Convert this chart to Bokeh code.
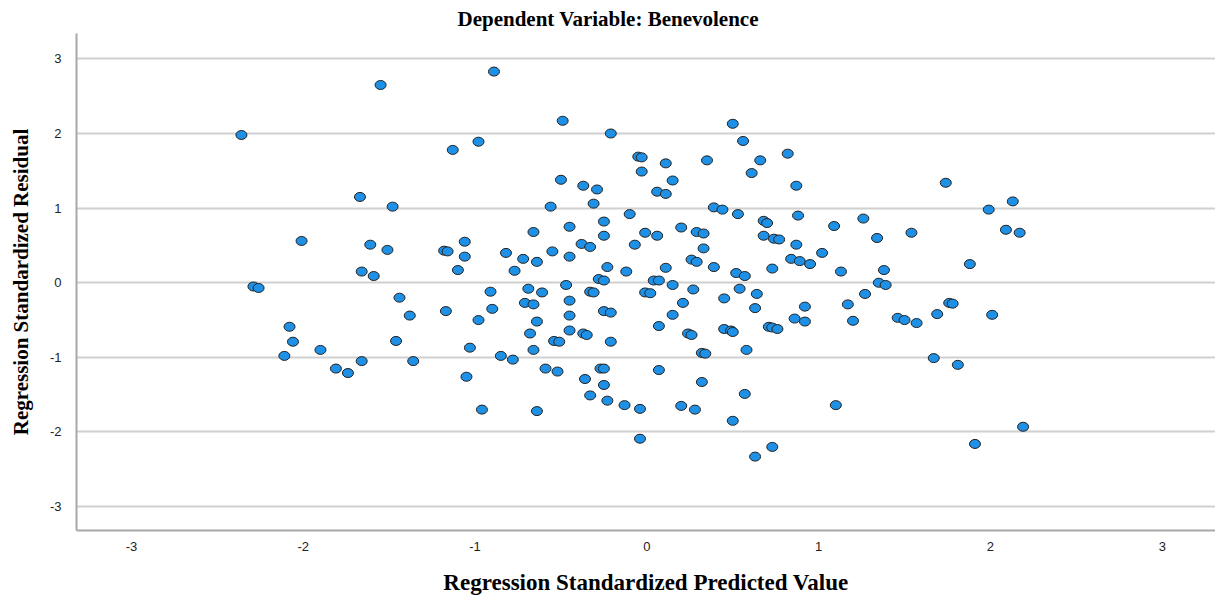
from bokeh.plotting import figure
from bokeh.models import ColumnDataSource, FixedTicker, Range1d
from bokeh.embed import file_html
from bokeh.resources import INLINE

# Regression standardized predicted values (x) and standardized residuals (y)
pred = [
    -2.36, -1.55, -0.89, -2.01, -2.29, -2.26, -2.08, -2.06, -2.11, -1.90,
    -1.81, -1.74, -1.66, -1.67, -1.48, -1.66, -1.59, -1.61, -1.51, -1.44,
    -1.38, -1.46, -1.36, -1.13, -0.98, -1.18, -1.16, -1.06, -1.06, -1.10,
    -1.17, -1.05, -1.03,
    -0.49, -0.21, 0.50, 0.56, 0.82, 0.66, 0.61, 0.87, -0.05, -0.03,
    -0.03, 0.11, 0.15, 0.35, -0.50, -0.37, -0.29, -0.31, 0.06, 0.11,
    -0.56, -0.10, 0.39, 0.44, 0.53, 0.88, 1.09, 0.68, 0.70, 0.68,
    0.74, 0.77, 0.87, 1.02, 0.84, 0.89, 0.95, 0.73, 0.52, 0.57,
    1.13, -0.25, -0.45, -0.25, -0.01, 0.06, 0.20, 0.29, 0.33, 0.33,
    0.26, 0.29, 0.39, 0.11, -0.07, -0.38, -0.33, -0.45, -0.55, -0.66,
    -0.82, -0.72, -0.64, -0.77, -0.23, -0.12, -0.28, -0.25, 0.04, 0.07,
    -0.47, 0.15,
    -0.91, -0.90, -0.98, -0.85, -0.78, -0.96, -0.64, -0.69, -0.61, -0.71,
    -0.66, -0.64, -0.68, -0.66, -0.45, -0.45, -0.45, -0.54, -0.51, -0.59,
    -0.52, -0.33, -0.31, -0.25, -0.21, -0.37, -0.35, -0.21, -0.27, -0.25,
    -0.36, -0.25, -0.33, -0.23, -0.13, -0.04, -0.04, -0.01, 0.02, 0.27,
    0.21, 0.15, 0.07, 0.07, 0.24, 0.26, 0.32, 0.34, 0.32, 0.20,
    0.28, 0.45, 0.54, 0.64, 0.63, 0.45, 0.49, 0.50, 0.58, 0.57,
    0.50, 0.63, 0.73, 0.92, 0.86, 0.92, 0.71, 0.73, 0.76, 1.17,
    1.20, 1.10,
    1.74, 2.13, 1.99, 1.26, 1.34, 1.54, 2.09, 2.17, 1.88, 1.38,
    1.35, 1.39, 1.27, 1.46, 1.50, 1.57, 1.69, 1.76, 1.78, 2.01,
    1.67, 1.81, 2.19, 1.91,
]
resid = [
    1.98, 2.65, 2.83, 0.56, -0.05, -0.07, -0.59, -0.79, -0.98, -0.90,
    -1.15, -1.21, -1.05, 1.15, 1.02, 0.15, 0.09, 0.51, 0.44, -0.20,
    -0.44, -0.78, -1.05, 1.78, 1.89, 0.43, 0.42, 0.55, 0.35, 0.17,
    -0.38, -1.26, -0.87,
    2.17, 2.00, 2.13, 1.90, 1.73, 1.64, 1.47, 1.30, 1.69, 1.68,
    1.49, 1.60, 1.37, 1.64, 1.38, 1.30, 1.25, 1.06, 1.22, 1.19,
    1.02, 0.92, 1.01, 0.98, 0.92, 0.90, 0.76, 0.83, 0.80, 0.63,
    0.59, 0.58, 0.51, 0.40, 0.32, 0.29, 0.25, 0.19, 0.13, 0.09,
    0.15, 0.82, 0.75, 0.63, 0.67, 0.63, 0.74, 0.68, 0.66, 0.46,
    0.31, 0.28, 0.21, 0.20, 0.51, 0.52, 0.48, 0.35, 0.42, 0.68,
    0.40, 0.32, 0.28, 0.16, 0.21, 0.15, 0.05, 0.03, 0.03, 0.03,
    -0.03, -0.03,
    -0.12, -0.35, -0.50, -0.98, -1.03, -1.70, -1.72, -0.08, -0.13, -0.27,
    -0.29, -0.52, -0.68, -0.90, -0.24, -0.44, -0.64, -0.78, -0.79, -1.15,
    -1.19, -0.12, -0.13, -0.38, -0.40, -0.68, -0.70, -0.79, -1.15, -1.15,
    -1.29, -1.37, -1.51, -1.58, -1.64, -1.69, -2.09, -0.13, -0.14, -0.09,
    -0.27, -0.43, -0.58, -1.17, -0.68, -0.70, -0.94, -0.95, -1.33, -1.65,
    -1.70, -0.21, -0.08, -0.15, -0.34, -0.62, -0.64, -0.66, -0.90, -1.49,
    -1.85, -2.33, -2.20, -0.32, -0.48, -0.52, -0.59, -0.60, -0.62, -0.29,
    -0.51, -1.64,
    1.34, 1.09, 0.98, 0.86, 0.60, 0.67, 0.71, 0.67, 0.25, 0.17,
    0.00, -0.03, -0.15, -0.47, -0.50, -0.54, -0.42, -0.27, -0.28, -0.43,
    -1.01, -1.10, -1.93, -2.16,
]
ticks = [-3, -2, -1, 0, 1, 2, 3]
tick_labels = {t: str(t) for t in ticks}

src = ColumnDataSource(data=dict(x=pred, y=resid))

p = figure(
    width=1215, height=598,
    output_backend="svg", toolbar_location=None,
    x_range=Range1d(-3.32, 3.31), y_range=Range1d(-3.32, 3.34),
    min_border_left=76, min_border_right=0, min_border_top=33, min_border_bottom=68,
)
p.outline_line_color = None
p.background_fill_color = "white"
p.border_fill_color = "white"

# title
p.title.text = "Dependent Variable: Benevolence"
p.title.align = "left"
p.title.offset = 381
p.title.standoff = 5
p.title.text_font = "Liberation Serif"
p.title.text_font_style = "bold"
p.title.text_font_size = "21px"
p.title.text_color = "black"

# axes
for ax in (p.xaxis[0], p.yaxis[0]):
    ax.ticker = FixedTicker(ticks=ticks)
    ax.major_label_overrides = tick_labels
    ax.major_tick_line_color = None
    ax.minor_tick_line_color = None
    ax.axis_line_color = "#a8a8a8"
    ax.axis_line_width = 2
    ax.major_label_text_font = "Liberation Sans"
    ax.major_label_text_font_size = "13px"
    ax.major_label_text_color = "#222222"
    ax.axis_label_text_font = "Liberation Serif"
    ax.axis_label_text_font_style = "bold"
    ax.axis_label_text_color = "black"

p.xaxis.axis_label = "Regression Standardized Predicted Value"
p.xaxis.axis_label_text_font_size = "23px"
p.xaxis.major_label_standoff = 5
p.xaxis.axis_label_standoff = 16

p.yaxis.axis_label = "Regression Standardized Residual"
p.yaxis.axis_label_text_font_size = "21px"
p.yaxis.major_label_standoff = 9
p.yaxis.axis_label_standoff = 14

# grid: horizontal lines only
p.xgrid.grid_line_color = None
p.ygrid.ticker = FixedTicker(ticks=ticks)
p.ygrid.grid_line_color = "#d0d0d0"
p.ygrid.grid_line_width = 2

# residual points
p.ellipse(
    x="x", y="y", source=src,
    width=11, height=9, width_units="screen", height_units="screen",
    fill_color="#1e90e6", line_color="#222222", line_width=1,
)

open("out.html", "w").write(file_html(p, INLINE))
